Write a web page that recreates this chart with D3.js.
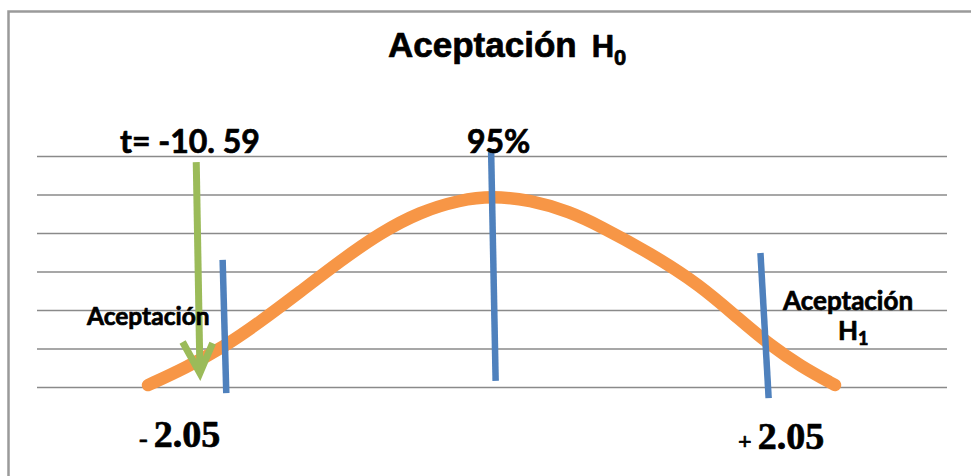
<!DOCTYPE html>
<html>
<head>
<meta charset="utf-8">
<script src="https://cdn.jsdelivr.net/npm/d3@7"></script>
<style>
  html, body { margin: 0; padding: 0; background: #fff; }
  svg { display: block; }
</style>
</head>
<body>
<svg id="chart" width="971" height="476"></svg>
<script>
// Horizontal reference levels of the plot area
const gridLevels = [0, 1, 2, 3, 4, 5, 6];

// Bell curve (position along the axis, height in grid units)
const curveX = [12.20, 16.26, 20.66, 24.51, 28.90, 33.30, 37.69, 42.09, 46.48, 50.00,
                54.18, 58.57, 61.87, 67.36, 72.86, 77.25, 80.55, 83.85, 87.69];
const curveY = [0.05, 0.49, 1.06, 1.69, 2.47, 3.27, 4.00, 4.55, 4.86, 4.96,
                4.86, 4.55, 4.18, 3.48, 2.65, 1.74, 1.09, 0.55, 0.05];

// Critical-value / centre markers (blue strokes): start and end of each stroke
const markerX1 = [20.4, 49.9, 79.5];
const markerY1 = [3.30, 6.18, 3.48];
const markerX2 = [20.8, 50.4, 80.4];
const markerY2 = [-0.16, 0.16, -0.29];

// Observed statistic arrow
const arrowX = [17.5, 17.9];
const arrowY = [5.84, 0.36];
const arrowHeadX = [16.0, 17.9, 19.3];
const arrowHeadY = [1.17, 0.36, 1.14];

const svg = d3.select("#chart");
const x = d3.scaleLinear().domain([0, 100]).range([37, 947]);
const y = d3.scaleLinear().domain([0, 6]).range([387, 156]);

// outer frame (top and left edges visible)
svg.append("path")
  .attr("d", "M8.5,476 V11.5 H971")
  .attr("fill", "none")
  .attr("stroke", "#9a9a9a")
  .attr("stroke-width", 2.5);

// gridlines via a D3 axis
const gridAxis = d3.axisLeft(y).tickValues(gridLevels).tickSize(-(x(100) - x(0))).tickFormat("");
const g = svg.append("g").attr("transform", `translate(${x(0)},0)`).call(gridAxis);
g.select(".domain").remove();
g.selectAll(".tick line").attr("stroke", "#8a8a8a").attr("stroke-width", 1.6);

// bell curve
const curvePts = curveX.map((v, i) => [v, curveY[i]]);
svg.append("path")
  .datum(curvePts)
  .attr("d", d3.line().x(d => x(d[0])).y(d => y(d[1])).curve(d3.curveBasis))
  .attr("fill", "none")
  .attr("stroke", "#F79646")
  .attr("stroke-width", 12.5)
  .attr("stroke-linecap", "round");

// blue markers
svg.selectAll("line.marker")
  .data(markerX1.map((v, i) => ({ x1: v, y1: markerY1[i], x2: markerX2[i], y2: markerY2[i] })))
  .join("line")
  .attr("class", "marker")
  .attr("x1", d => x(d.x1)).attr("y1", d => y(d.y1))
  .attr("x2", d => x(d.x2)).attr("y2", d => y(d.y2))
  .attr("stroke", "#4F81BD")
  .attr("stroke-width", 6.5);

// green arrow
svg.append("line")
  .attr("x1", x(arrowX[0])).attr("y1", y(arrowY[0]))
  .attr("x2", x(arrowX[1])).attr("y2", y(arrowY[1]) - 4)
  .attr("stroke", "#9BBB59")
  .attr("stroke-width", 7);
svg.append("path")
  .datum(arrowHeadX.map((v, i) => [v, arrowHeadY[i]]))
  .attr("d", d3.line().x(d => x(d[0])).y(d => y(d[1])))
  .attr("fill", "none")
  .attr("stroke", "#9BBB59")
  .attr("stroke-width", 7)
  .attr("stroke-linejoin", "miter")
  .attr("stroke-linecap", "butt");

// heavy black text helper
function boldText(sel) {
  return sel.attr("fill", "#000").attr("stroke", "#000").attr("stroke-width", 0.7)
    .attr("stroke-linejoin", "round");
}

// title
const title = boldText(svg.append("text"))
  .attr("x", 388).attr("y", 57)
  .attr("font-family", "Liberation Sans, Arial, sans-serif")
  .attr("font-weight", "bold")
  .attr("font-size", 35);
title.append("tspan").text("Aceptación");
title.append("tspan").attr("dx", 15).attr("font-size", 31).text("H");
title.append("tspan").attr("dy", 8).attr("font-size", 22).text("0");

const sans = "Lato, 'Open Sans', sans-serif";

boldText(svg.append("text"))
  .attr("x", 120).attr("y", 153)
  .attr("font-family", sans).attr("font-weight", "bold").attr("font-size", 32)
  .text("t= -10. 59");

boldText(svg.append("text"))
  .attr("x", 467).attr("y", 153)
  .attr("font-family", sans).attr("font-weight", "bold").attr("font-size", 32)
  .text("95%");

boldText(svg.append("text"))
  .attr("x", 87).attr("y", 325)
  .attr("font-family", sans).attr("font-weight", "bold").attr("font-size", 24.5)
  .text("Aceptación");

boldText(svg.append("text"))
  .attr("x", 783).attr("y", 310)
  .attr("font-family", sans).attr("font-weight", "bold").attr("font-size", 26)
  .text("Aceptación");
const h1 = boldText(svg.append("text"))
  .attr("x", 838).attr("y", 340)
  .attr("font-family", sans).attr("font-weight", "bold").attr("font-size", 26);
h1.append("tspan").text("H");
h1.append("tspan").attr("dy", 5).attr("font-size", 18).text("1");

const serif = "'Liberation Serif', 'Times New Roman', serif";
const lblL = boldText(svg.append("text"))
  .attr("x", 139).attr("y", 447)
  .attr("font-family", serif).attr("font-weight", "bold").attr("font-size", 38);
lblL.append("tspan").attr("font-size", 26).text("-");
lblL.append("tspan").attr("dx", 6).text("2.05");

const lblR = boldText(svg.append("text"))
  .attr("x", 738).attr("y", 449)
  .attr("font-family", serif).attr("font-weight", "bold").attr("font-size", 38);
lblR.append("tspan").attr("font-size", 24).text("+");
lblR.append("tspan").attr("dx", 6).text("2.05");
</script>
</body>
</html>
